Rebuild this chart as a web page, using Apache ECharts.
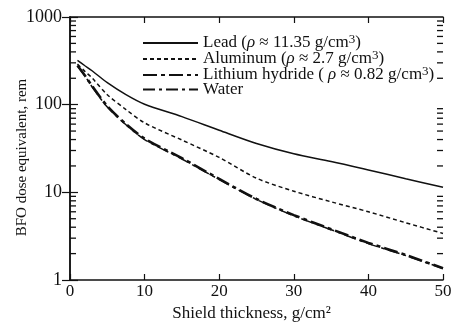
<!DOCTYPE html>
<html><head><meta charset="utf-8">
<script src="https://cdn.jsdelivr.net/npm/echarts@6/dist/echarts.min.js"></script>
<style>html,body{margin:0;padding:0;background:#fff}#c{width:452px;height:327px}</style>
</head><body><div id="c"></div>
<script>
var thickness = [1, 2, 3, 5, 7.5, 10, 15, 20, 25, 30, 35, 40, 45, 50];
var lead      = [320, 278, 242, 178, 130, 101, 73, 51, 36, 27.5, 22.5, 18, 14.3, 11.4];
var aluminum  = [290, 240, 200, 130, 88, 62, 39.5, 25, 14.5, 10.3, 7.8, 6.0, 4.5, 3.4];
var lithium   = [280, 215, 162, 96, 60, 41, 24.5, 14.2, 8.4, 5.5, 3.8, 2.65, 1.93, 1.36];
var water     = [275, 212, 158, 94, 59, 40, 24, 14, 8.3, 5.4, 3.75, 2.6, 1.9, 1.35];
var xTicks = [0, 10, 20, 30, 40, 50];
var yTicks = [1, 10, 100, 1000];
var minorTickValues = [2,3,4,5,6,7,8,9,20,30,40,50,60,70,80,90,200,300,400,500,600,700,800,900];
var names = ['Lead', 'Aluminum', 'Lithium hydride', 'Water'];
var legendLabels = {
  'Lead': 'Lead ({i|ρ} ≈ 11.35 g/cm{s|3})',
  'Aluminum': 'Aluminum ({i|ρ} ≈ 2.7 g/cm{s|3})',
  'Lithium hydride': 'Lithium hydride ( {i|ρ} ≈ 0.82 g/cm{s|3})',
  'Water': 'Water'
};
function pairs(v){ return thickness.map(function(x,i){ return [x, v[i]]; }); }
var font = '"Liberation Serif", "DejaVu Serif", serif';
var chart = echarts.init(document.getElementById('c'), null, {renderer:'canvas'});
chart.setOption({
  animation: false,
  backgroundColor: '#fff',
  color: ['#111', '#111', '#111', '#111', '#111'],
  grid: {left: 70, right: 9, top: 17, bottom: 47, containLabel: false, outerBoundsMode: 'none'},
  legend: {
    orient: 'vertical', left: 142, top: 33, padding: 0,
    data: names, itemWidth: 55, itemHeight: 10, itemGap: -2.5,
    itemStyle: {opacity: 0},
    formatter: function(n){ return legendLabels[n]; },
    textStyle: {fontFamily: font, fontSize: 17, color: '#111', lineHeight: 15,
      rich: {i: {fontFamily: font, fontSize: 17, fontStyle: 'italic', color:'#111'},
             s: {fontFamily: font, fontSize: 13, color:'#111', padding: [0, 0, 7, 0]}}}
  },
  xAxis: [{
    type: 'value', min: 0, max: 50, interval: 10, position: 'bottom',
    name: 'Shield thickness, g/cm²', nameLocation: 'middle', nameGap: 21,
    nameTextStyle: {fontFamily: font, fontSize: 17, color: '#111', padding: [0, 10, 0, 0]},
    axisLine: {lineStyle: {color: '#111', width: 1.5}},
    axisTick: {inside: true, length: 6, lineStyle: {color:'#111', width: 1.2}},
    axisLabel: {fontFamily: font, fontSize: 17, color: '#111', margin: 3},
    splitLine: {show: false}
  }, {
    type: 'value', min: 0, max: 50, interval: 10, position: 'top',
    axisLine: {show: true, lineStyle: {color: '#111', width: 1.5}},
    axisTick: {inside: true, length: 6, lineStyle: {color:'#111', width: 1.2}},
    axisLabel: {show: false}, splitLine: {show: false}
  }],
  yAxis: [{
    type: 'log', logBase: 10, min: 1, max: 1000, position: 'left',
    name: 'BFO dose equivalent, rem', nameLocation: 'middle', nameGap: 40, nameRotate: 90,
    nameMoveOverlap: false,
    nameTextStyle: {fontFamily: font, fontSize: 15, color: '#111', padding: [0, 18, 0, 0]},
    axisLine: {show: true, lineStyle: {color: '#111', width: 1.5}},
    axisTick: {inside: true, length: 8, lineStyle: {color:'#111', width: 1.2}},
    axisLabel: {fontFamily: font, fontSize: 18, color: '#111', margin: 8,
      formatter: function(v){ return String(Math.round(v)); }},
    splitLine: {show: false}
  }, {
    type: 'log', logBase: 10, min: 1, max: 1000, position: 'right',
    axisLine: {show: true, lineStyle: {color: '#111', width: 1.5}},
    axisTick: {inside: true, length: 8, lineStyle: {color:'#111', width: 1.2}},
    axisLabel: {show: false}, splitLine: {show: false}
  }],
  series: [
    {name: 'Lead', type: 'line', data: pairs(lead), symbol: 'none', smooth: 0.3,
     lineStyle: {color: '#111', width: 1.5, type: 'solid'}},
    {name: 'Aluminum', type: 'line', data: pairs(aluminum), symbol: 'none', smooth: 0.3,
     lineStyle: {color: '#111', width: 1.5, type: [4, 3]}},
    {name: 'Lithium hydride', type: 'line', data: pairs(lithium), symbol: 'none', smooth: 0.3,
     lineStyle: {color: '#111', width: 2.6, type: [14, 4, 4, 4]}},
    {name: 'Water', type: 'line', data: pairs(water), symbol: 'none', smooth: 0.3,
     lineStyle: {color: '#111', width: 1.5, type: [12, 4, 3, 4]}},
    {type: 'scatter', silent: true, clip: false, xAxisIndex: 0, yAxisIndex: 0, z: 5,
     data: minorTickValues.map(function(v){ return [0, v]; }),
     symbol: 'rect', symbolSize: [6, 1.3], symbolOffset: [3, 0],
     itemStyle: {color: '#111', opacity: 1}},
    {type: 'scatter', silent: true, clip: false, xAxisIndex: 0, yAxisIndex: 0, z: 5,
     data: minorTickValues.map(function(v){ return [50, v]; }),
     symbol: 'rect', symbolSize: [6, 1.3], symbolOffset: [-3, 0],
     itemStyle: {color: '#111', opacity: 1}}
  ]
});
</script></body></html>
